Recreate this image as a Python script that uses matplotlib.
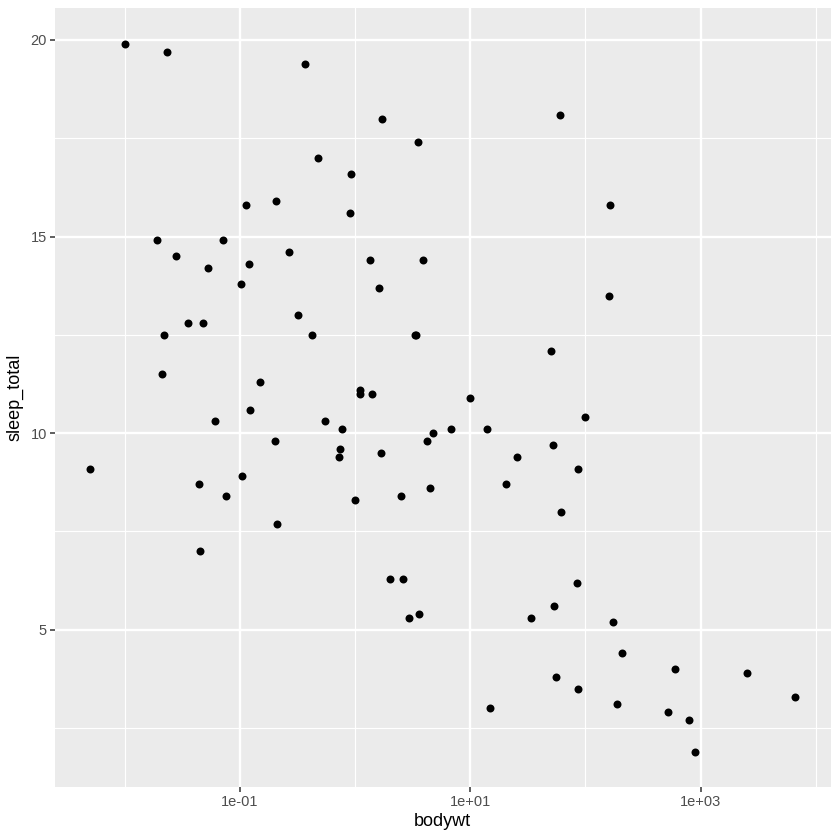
import numpy as np
import matplotlib
matplotlib.use("Agg")
import matplotlib.pyplot as plt
from matplotlib.ticker import FixedLocator, FixedFormatter, NullFormatter

plt.rcParams['font.family'] = ['Liberation Sans', 'DejaVu Sans']

# msleep: body weight (kg) and total sleep (h)
bodywt = [50.000, 0.480, 1.350, 0.019, 600.000, 3.850, 20.490, 0.045, 14.000, 14.800,
          33.500, 0.728, 4.750, 0.420, 0.060, 1.000, 0.005, 3.500, 2.950, 1.700,
          2547.000, 0.023, 521.000, 187.000, 0.770, 10.000, 0.071, 3.300, 0.200, 899.995,
          800.000, 85.000, 2.625, 62.000, 1.670, 6654.000, 0.370, 6.800, 0.053, 0.120,
          0.035, 0.022, 0.010, 0.266, 1.400, 0.210, 0.028, 2.500, 55.500, 52.200,
          162.564, 100.000, 161.499, 25.235, 0.550, 1.100, 0.021, 1.620, 86.000, 53.180,
          1.100, 60.000, 3.600, 0.320, 0.044, 0.743, 0.075, 0.148, 0.122, 0.920,
          0.101, 0.205, 0.048, 86.250, 4.500, 0.112, 207.501, 0.900, 0.104, 173.330,
          2.000, 3.380, 4.230]
sleep_total = [12.1, 17.0, 14.4, 14.9, 4.0, 14.4, 8.7, 7.0, 10.1, 3.0,
               5.3, 9.4, 10.0, 12.5, 10.3, 8.3, 9.1, 17.4, 5.3, 18.0,
               3.9, 19.7, 2.9, 3.1, 10.1, 10.9, 14.9, 12.5, 9.8, 1.9,
               2.7, 6.2, 6.3, 8.0, 9.5, 3.3, 19.4, 10.1, 14.2, 14.3,
               12.8, 12.5, 19.9, 14.6, 11.0, 7.7, 14.5, 8.4, 3.8, 9.7,
               15.8, 10.4, 13.5, 9.4, 10.3, 11.0, 11.5, 13.7, 3.5, 5.6,
               11.1, 18.1, 5.4, 13.0, 8.7, 9.6, 8.4, 11.3, 10.6, 16.6,
               13.8, 15.9, 12.8, 9.1, 8.6, 15.8, 4.4, 15.6, 8.9, 5.2,
               6.3, 12.5, 9.8]

x_breaks = [1e-1, 1e1, 1e3]
x_labels = ["1e-01", "1e+01", "1e+03"]
x_minor = [1e-2, 1e0, 1e2, 1e4]
y_breaks = [5, 10, 15, 20]
y_minor = [2.5, 7.5, 12.5, 17.5]

fig = plt.figure(figsize=(8.4, 8.4), dpi=100)
ax = fig.add_axes([0.0655, 0.0631, 0.9232, 0.9268])
ax.set_facecolor("#EBEBEB")
ax.set_xscale("log")

# ggplot-like expansion (5% of range, log space for x)
lx = np.log10(bodywt)
pad = 0.05 * (lx.max() - lx.min())
ax.set_xlim(10 ** (lx.min() - pad), 10 ** (lx.max() + pad))
pad_y = 0.05 * (max(sleep_total) - min(sleep_total))
ax.set_ylim(min(sleep_total) - pad_y, max(sleep_total) + pad_y)

ax.xaxis.set_major_locator(FixedLocator(x_breaks))
ax.xaxis.set_major_formatter(FixedFormatter(x_labels))
ax.xaxis.set_minor_locator(FixedLocator(x_minor))
ax.xaxis.set_minor_formatter(NullFormatter())
ax.yaxis.set_major_locator(FixedLocator(y_breaks))
ax.yaxis.set_minor_locator(FixedLocator(y_minor))
ax.yaxis.set_minor_formatter(NullFormatter())

ax.grid(which="major", color="white", linewidth=1.7)
ax.grid(which="minor", color="white", linewidth=0.85)
ax.set_axisbelow(True)
for s in ax.spines.values():
    s.set_visible(False)

ax.tick_params(which="major", length=3.3, width=1.1, color="#333333",
               labelcolor="#4D4D4D", labelsize=10.5, pad=2.5)
ax.tick_params(which="minor", length=0)

ax.scatter(bodywt, sleep_total, s=33, color="black", linewidths=0, zorder=3)

ax.set_xlabel("bodywt", fontsize=13, color="black", labelpad=3)
ax.set_ylabel("sleep_total", fontsize=13, color="black", labelpad=5)

fig.savefig("out.png", dpi=100)
